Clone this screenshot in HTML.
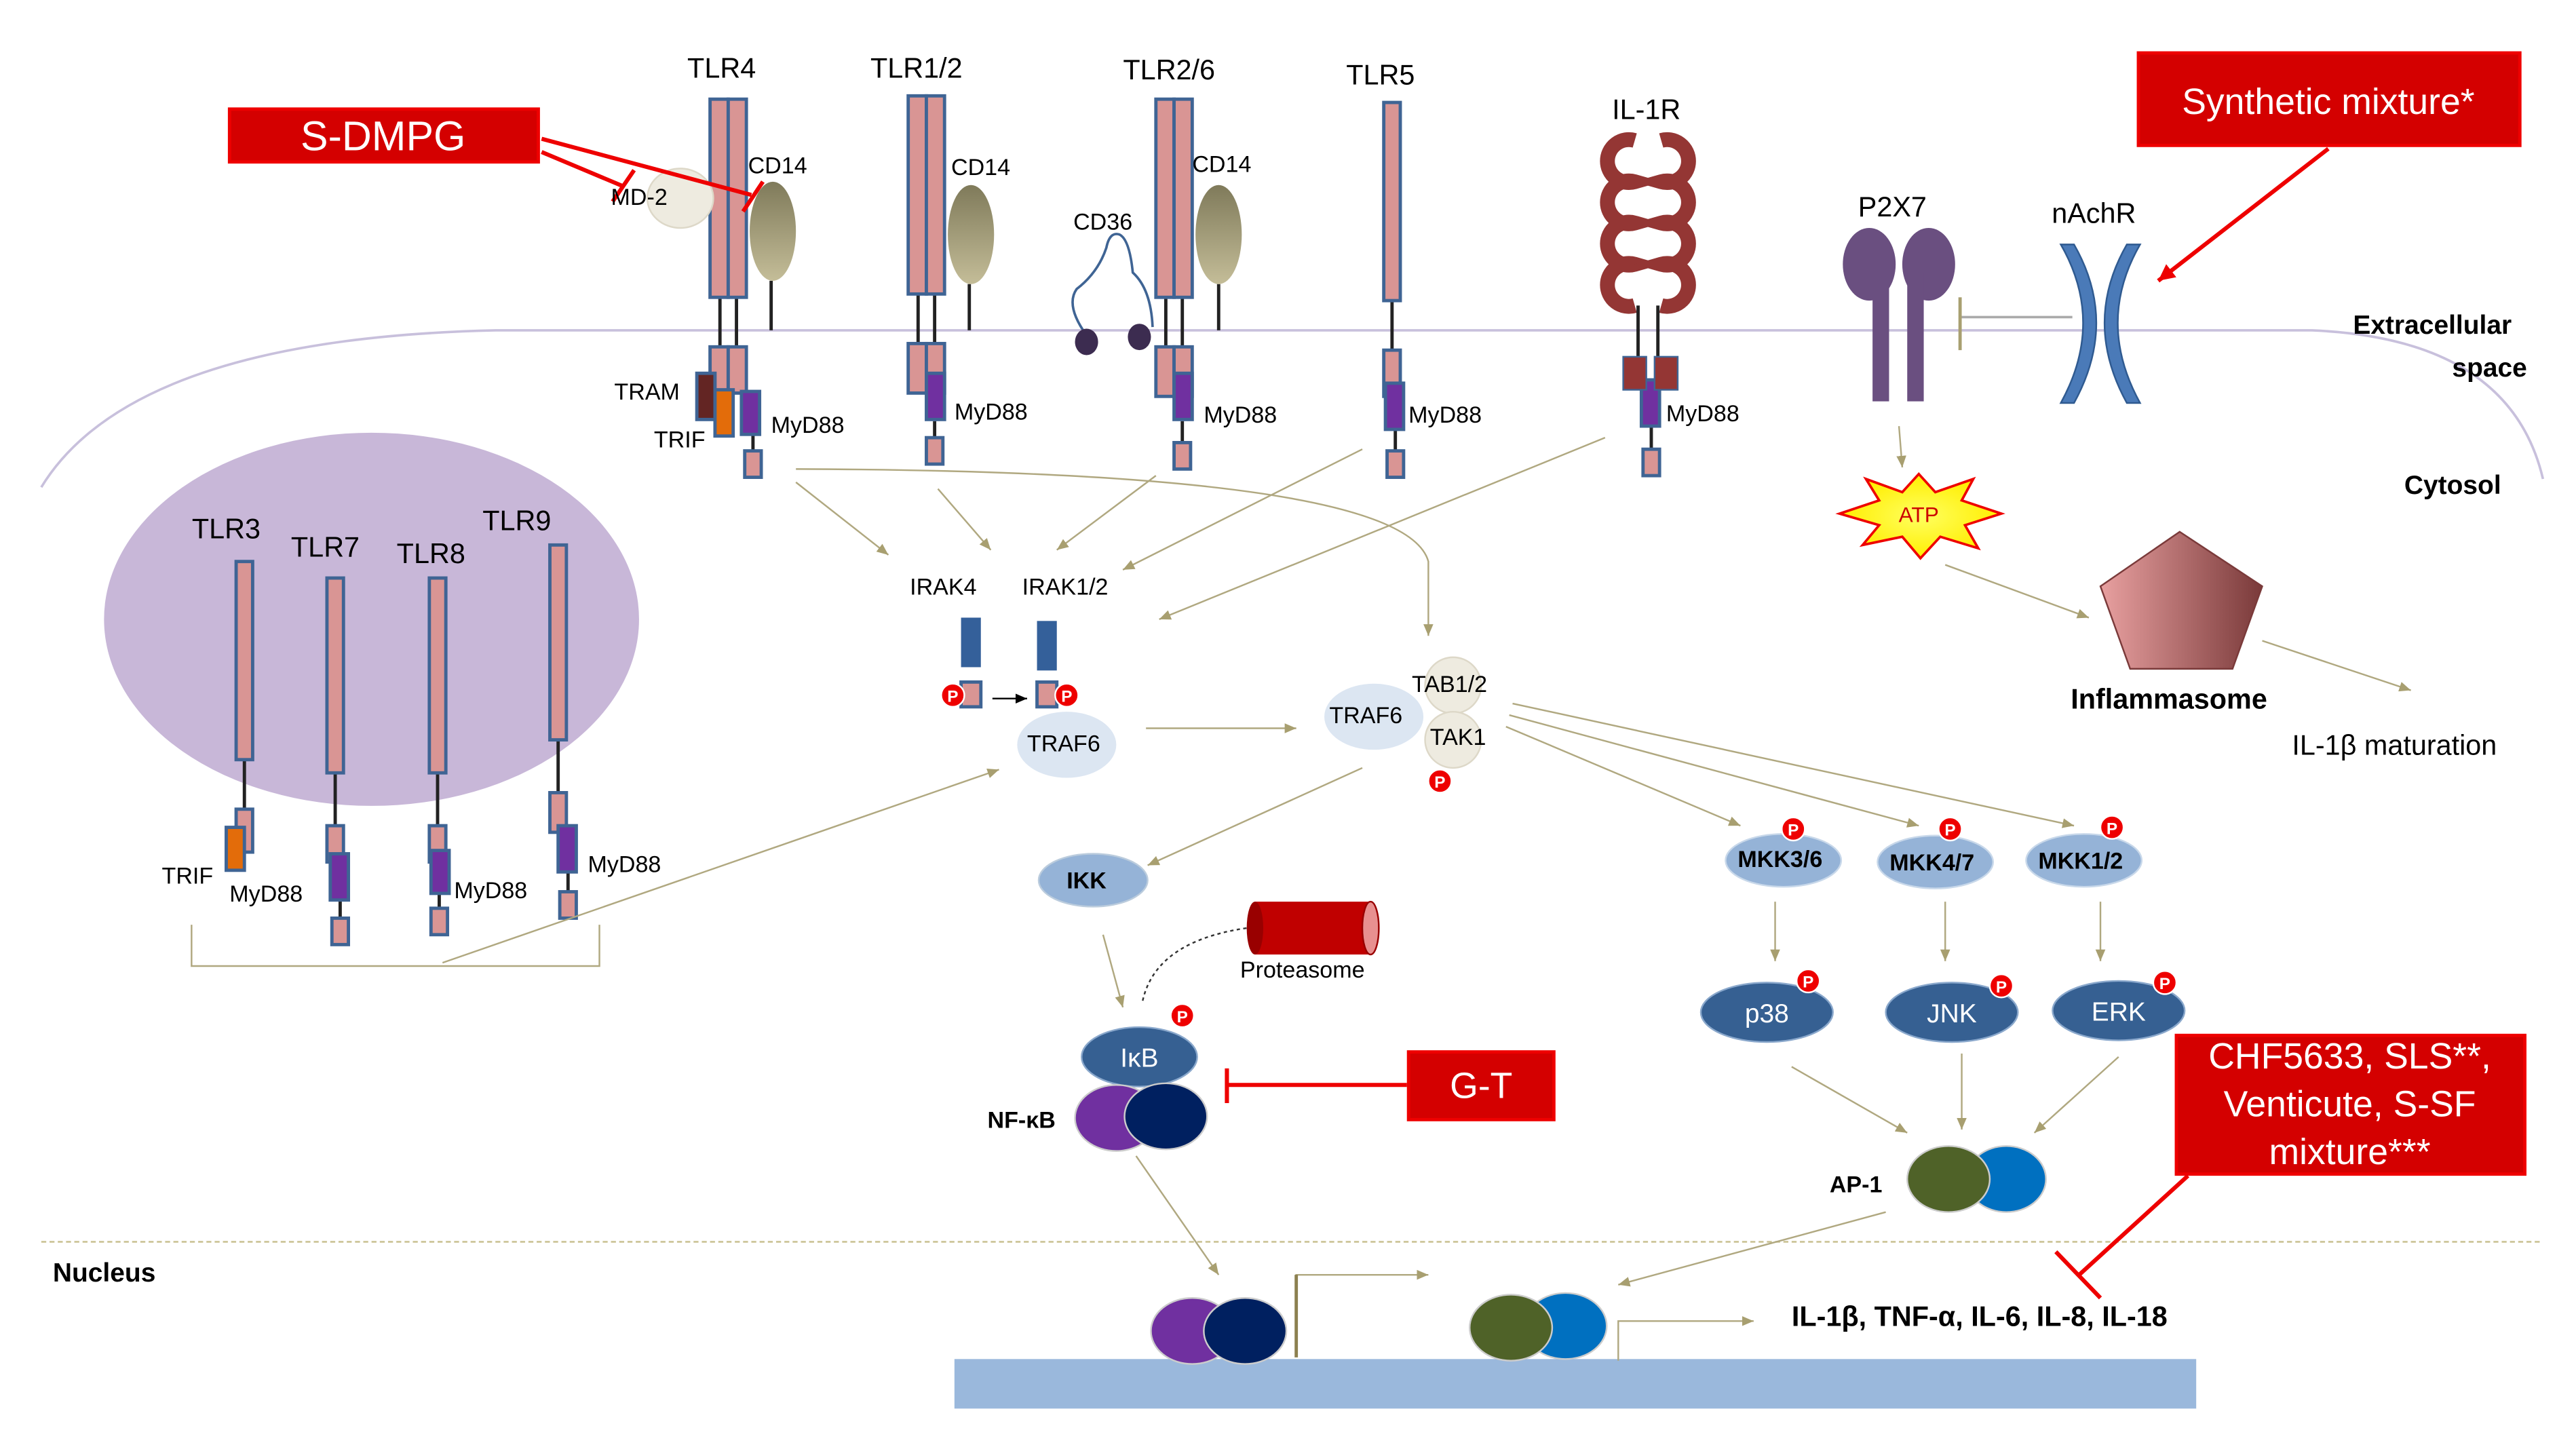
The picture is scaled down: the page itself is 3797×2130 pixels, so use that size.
<!DOCTYPE html>
<html><head><meta charset="utf-8"><style>
html,body{margin:0;padding:0;background:#fff}
svg{display:block}
text{font-family:"Liberation Sans",sans-serif}
</style></head><body>
<svg width="3797" height="2130" viewBox="0 0 1560 875" xmlns="http://www.w3.org/2000/svg">
<defs>
<marker id="ar" markerWidth="8" markerHeight="8" refX="7" refY="4" orient="auto" markerUnits="userSpaceOnUse"><path d="M0,1 L7,4 L0,7 z" fill="#a89f70"/></marker>
<marker id="ark" markerWidth="8" markerHeight="8" refX="7" refY="4" orient="auto" markerUnits="userSpaceOnUse"><path d="M0,1 L7,4 L0,7 z" fill="#000"/></marker>
<marker id="arr" markerWidth="12" markerHeight="12" refX="10" refY="6" orient="auto" markerUnits="userSpaceOnUse"><path d="M0,1 L10,6 L0,11 z" fill="#e00"/></marker>
<linearGradient id="cd" x1="0" y1="0" x2="0" y2="1"><stop offset="0" stop-color="#7f7a5a"/><stop offset="1" stop-color="#c4bd98"/></linearGradient>
<linearGradient id="inf" x1="0" y1="0" x2="1" y2="0"><stop offset="0" stop-color="#e8a0a0"/><stop offset="1" stop-color="#7a3a3a"/></linearGradient>
<radialGradient id="atp"><stop offset="0" stop-color="#ffff60"/><stop offset="1" stop-color="#ffee00"/></radialGradient>
</defs>
<path d="M25,295 Q80,205 300,200 L1400,200 Q1520,205 1540,290" fill="none" stroke="#c8c0dc" stroke-width="1.5"/>
<line x1="25" y1="752" x2="1540" y2="752" stroke="#c8c090" stroke-width="1" stroke-dasharray="3,2"/>
<rect x="578" y="823" width="752" height="30" fill="#9ab8dc"/>
<ellipse cx="225" cy="375" rx="162" ry="113" fill="#c8b7d8"/>
<g stroke="#222" stroke-width="2">
<line x1="436" y1="180" x2="436" y2="210"/><line x1="446" y1="180" x2="446" y2="210"/><line x1="467" y1="170" x2="467" y2="200"/>
<line x1="556" y1="178" x2="556" y2="208"/><line x1="566" y1="178" x2="566" y2="208"/><line x1="587" y1="172" x2="587" y2="200"/>
<line x1="706" y1="180" x2="706" y2="210"/><line x1="716" y1="180" x2="716" y2="210"/><line x1="738" y1="172" x2="738" y2="200"/>
<line x1="843" y1="182" x2="843" y2="212"/>
<line x1="456" y1="262" x2="456" y2="273"/><line x1="566" y1="255" x2="566" y2="265"/><line x1="716" y1="255" x2="716" y2="268"/><line x1="845" y1="260" x2="845" y2="273"/><line x1="1000" y1="258" x2="1000" y2="272"/>
<line x1="148" y1="460" x2="148" y2="490"/><line x1="203" y1="468" x2="203" y2="500"/><line x1="265" y1="468" x2="265" y2="500"/><line x1="338" y1="448" x2="338" y2="480"/>
<line x1="206" y1="545" x2="206" y2="556"/><line x1="266" y1="541" x2="266" y2="550"/><line x1="344" y1="528" x2="344" y2="540"/>
</g>
<g fill="#d99594" stroke="#3f6494" stroke-width="2">
<rect x="430" y="60" width="11" height="120"/><rect x="441" y="60" width="11" height="120"/>
<rect x="430" y="210" width="11" height="28"/><rect x="441" y="210" width="11" height="28"/>
<rect x="451" y="273" width="10" height="16"/>
<rect x="550" y="58" width="11" height="120"/><rect x="561" y="58" width="11" height="120"/>
<rect x="550" y="208" width="11" height="30"/><rect x="561" y="208" width="11" height="30"/>
<rect x="561" y="265" width="10" height="16"/>
<rect x="700" y="60" width="11" height="120"/><rect x="711" y="60" width="11" height="120"/>
<rect x="700" y="210" width="11" height="30"/><rect x="711" y="210" width="11" height="30"/>
<rect x="711" y="268" width="10" height="16"/>
<rect x="838" y="62" width="10" height="120"/><rect x="838" y="212" width="10" height="28"/>
<rect x="840" y="273" width="10" height="16"/>
<rect x="995" y="272" width="10" height="16"/>
<rect x="143" y="340" width="10" height="120"/><rect x="143" y="490" width="10" height="26"/>
<rect x="198" y="350" width="10" height="118"/><rect x="198" y="500" width="10" height="22"/><rect x="201" y="556" width="10" height="16"/>
<rect x="260" y="350" width="10" height="118"/><rect x="260" y="500" width="10" height="22"/><rect x="261" y="550" width="10" height="16"/>
<rect x="333" y="330" width="10" height="118"/><rect x="333" y="480" width="10" height="24"/><rect x="339" y="540" width="10" height="16"/>
<rect x="582" y="413" width="12" height="15"/><rect x="628" y="413" width="12" height="15"/>
</g>
<g stroke="#3f6494" stroke-width="2">
<rect x="422" y="226" width="11" height="28" fill="#632523"/>
<rect x="433" y="236" width="11" height="28" fill="#e36c0a"/>
<rect x="449" y="237" width="11" height="26" fill="#7030a0"/>
<rect x="561" y="226" width="11" height="28" fill="#7030a0"/>
<rect x="711" y="226" width="11" height="28" fill="#7030a0"/>
<rect x="839" y="232" width="11" height="28" fill="#7030a0"/>
<rect x="994" y="230" width="11" height="28" fill="#7030a0"/>
<rect x="137" y="501" width="11" height="26" fill="#e36c0a"/>
<rect x="200" y="517" width="11" height="28" fill="#7030a0"/>
<rect x="261" y="515" width="11" height="26" fill="#7030a0"/>
<rect x="338" y="500" width="11" height="28" fill="#7030a0"/>
<rect x="582" y="374" width="12" height="30" fill="#34609a" stroke="none"/>
<rect x="628" y="376" width="12" height="30" fill="#34609a" stroke="none"/>
</g>
<ellipse cx="412" cy="120" rx="20" ry="18" fill="#eeebe0" stroke="#ddd8c8"/>
<ellipse cx="468" cy="140" rx="14" ry="30" fill="url(#cd)"/>
<ellipse cx="588" cy="142" rx="14" ry="30" fill="url(#cd)"/>
<ellipse cx="738" cy="142" rx="14" ry="30" fill="url(#cd)"/>
<path d="M658,203 Q645,185 652,175 Q665,165 670,150 Q672,140 678,142 Q684,145 686,165 Q697,175 698,198" fill="none" stroke="#3f6494" stroke-width="1.5"/>
<ellipse cx="658" cy="207" rx="7" ry="8" fill="#3c2c50"/><ellipse cx="690" cy="204" rx="7" ry="8" fill="#3c2c50"/>
<g fill="none" stroke="#943634" stroke-width="9">
<path d="M990,85 A13,13 0 1 0 990,110 A13,13 0 1 0 990,135 A13,13 0 1 0 990,160 A13,13 0 1 0 990,185"/>
<path d="M1006,85 A13,13 0 1 1 1006,110 A13,13 0 1 1 1006,135 A13,13 0 1 1 1006,160 A13,13 0 1 1 1006,185"/>
</g>
<line x1="992" y1="185" x2="992" y2="216" stroke="#222" stroke-width="2"/><line x1="1004" y1="185" x2="1004" y2="216" stroke="#222" stroke-width="2"/>
<rect x="983" y="216" width="14" height="20" fill="#943634" stroke="#3f6494"/><rect x="1002" y="216" width="14" height="20" fill="#943634" stroke="#3f6494"/>
<g fill="#6a4f80">
<ellipse cx="1132" cy="160" rx="16" ry="22"/><rect x="1134" y="165" width="10" height="78"/>
<ellipse cx="1168" cy="160" rx="16" ry="22"/><rect x="1155" y="165" width="10" height="78"/>
</g>
<line x1="1187" y1="192" x2="1255" y2="192" stroke="#aaa" stroke-width="1.5"/><line x1="1187" y1="180" x2="1187" y2="212" stroke="#a89f70" stroke-width="2"/>
<path d="M1248,148 Q1275,195 1248,244 L1256,244 Q1283,195 1256,148 z" fill="#4a7ab8" stroke="#2f5a90"/>
<path d="M1296,148 Q1269,195 1296,244 L1288,244 Q1261,195 1288,148 z" fill="#4a7ab8" stroke="#2f5a90"/>
<polygon points="1162,287 1172,298 1195,290 1188,303 1212,311 1190,318 1198,332 1175,325 1163,338 1152,325 1128,330 1138,318 1114,311 1138,303 1130,290 1152,298" fill="url(#atp)" stroke="#e00" stroke-width="1.5"/>
<text x="1162" y="316" font-size="13" text-anchor="middle" fill="#c00">ATP</text>
<polygon points="1320,322 1370,355 1352,405 1290,405 1272,355" fill="url(#inf)" stroke="#7a3a3a"/>
<ellipse cx="646" cy="451" rx="30" ry="20" fill="#dce6f2"/>
<ellipse cx="832" cy="434" rx="30" ry="20" fill="#dce6f2"/>
<circle cx="880" cy="415" r="17" fill="#eeebe0" stroke="#ddd8c8"/><circle cx="880" cy="448" r="17" fill="#eeebe0" stroke="#ddd8c8"/>
<ellipse cx="662" cy="533" rx="33" ry="16" fill="#95b3d7" stroke="#bcd"/>
<g fill="#95b3d7" stroke="#c8d8ea"><ellipse cx="1080" cy="521" rx="35" ry="16"/><ellipse cx="1172" cy="522" rx="35" ry="16"/><ellipse cx="1262" cy="521" rx="35" ry="16"/></g>
<g fill="#366092" stroke="#8aa8cc"><ellipse cx="1070" cy="613" rx="40" ry="18"/><ellipse cx="1182" cy="613" rx="40" ry="18"/><ellipse cx="1283" cy="612" rx="40" ry="18"/><ellipse cx="690" cy="640" rx="35" ry="18"/></g>
<ellipse cx="676" cy="677" rx="25" ry="20" fill="#7030a0" stroke="#ccc"/><ellipse cx="706" cy="676" rx="25" ry="20" fill="#002060" stroke="#ccc"/>
<ellipse cx="1215" cy="714" rx="24" ry="20" fill="#0070c0" stroke="#ccc"/><ellipse cx="1180" cy="714" rx="25" ry="20" fill="#4f6228" stroke="#ccc"/>
<ellipse cx="722" cy="806" rx="25" ry="20" fill="#7030a0" stroke="#ccc"/><ellipse cx="754" cy="806" rx="25" ry="20" fill="#002060" stroke="#ccc"/>
<ellipse cx="948" cy="803" rx="25" ry="20" fill="#0070c0" stroke="#ccc"/><ellipse cx="915" cy="804" rx="25" ry="20" fill="#4f6228" stroke="#ccc"/>
<rect x="760" y="546" width="70" height="32" fill="#c00000"/><ellipse cx="760" cy="562" rx="5" ry="16" fill="#900"/><ellipse cx="830" cy="562" rx="5" ry="16" fill="#e89090" stroke="#900"/>
<path d="M692,606 Q700,570 755,562" fill="none" stroke="#333" stroke-dasharray="2,2"/>
<g fill="#e00" stroke="#fff"><circle cx="577" cy="421" r="7"/><circle cx="646" cy="421" r="7"/><circle cx="872" cy="473" r="7"/><circle cx="1086" cy="502" r="7"/><circle cx="1181" cy="502" r="7"/><circle cx="1279" cy="501" r="7"/><circle cx="1095" cy="594" r="7"/><circle cx="1212" cy="597" r="7"/><circle cx="1311" cy="595" r="7"/><circle cx="716" cy="615" r="7"/></g>
<g fill="#fff" font-size="10" font-weight="bold" text-anchor="middle"><text x="577" y="425">P</text><text x="646" y="425">P</text><text x="872" y="477">P</text><text x="1086" y="506">P</text><text x="1181" y="506">P</text><text x="1279" y="505">P</text><text x="1095" y="598">P</text><text x="1212" y="601">P</text><text x="1311" y="599">P</text><text x="716" y="619">P</text></g>
<g stroke="#b0a880" stroke-width="1" fill="none" marker-end="url(#ar)">
<line x1="482" y1="292" x2="538" y2="336"/><line x1="568" y1="296" x2="600" y2="333"/><line x1="700" y1="288" x2="640" y2="333"/><line x1="825" y1="272" x2="680" y2="345"/><line x1="972" y1="265" x2="702" y2="375"/>
<path d="M482,284 Q850,285 865,340 L865,385"/>
<line x1="694" y1="441" x2="785" y2="441"/>
<line x1="825" y1="465" x2="695" y2="524"/>
<line x1="912" y1="440" x2="1054" y2="500"/><line x1="914" y1="433" x2="1162" y2="500"/><line x1="916" y1="426" x2="1256" y2="500"/>
<line x1="1075" y1="546" x2="1075" y2="582"/><line x1="1178" y1="546" x2="1178" y2="582"/><line x1="1272" y1="546" x2="1272" y2="582"/>
<line x1="1085" y1="646" x2="1155" y2="686"/><line x1="1188" y1="638" x2="1188" y2="684"/><line x1="1283" y1="640" x2="1232" y2="686"/>
<line x1="1142" y1="734" x2="980" y2="778"/>
<line x1="268" y1="583" x2="605" y2="466"/>
<line x1="668" y1="566" x2="680" y2="610"/>
<line x1="688" y1="700" x2="738" y2="772"/>
<line x1="1150" y1="258" x2="1152" y2="283"/>
<line x1="1178" y1="342" x2="1265" y2="374"/><line x1="1370" y1="388" x2="1460" y2="418"/>
<path d="M785,820 L785,772 L865,772"/><path d="M980,824 L980,800 L1062,800"/>
</g>
<line x1="601" y1="423" x2="622" y2="423" stroke="#000" marker-end="url(#ark)"/>
<path d="M116,560 L116,585 L363,585 L363,560" fill="none" stroke="#b0a880"/>
<line x1="785" y1="772" x2="785" y2="822" stroke="#8c8050" stroke-width="2"/>
<g stroke="#e00" stroke-width="2.5" fill="none">
<line x1="328" y1="84" x2="455" y2="118"/><line x1="328" y1="92" x2="378" y2="113"/>
<line x1="371" y1="122" x2="384" y2="103"/><line x1="450" y1="128" x2="462" y2="110"/>
<line x1="852" y1="657" x2="743" y2="657"/><line x1="743" y1="647" x2="743" y2="668"/>
<line x1="1325" y1="712" x2="1258" y2="773"/><line x1="1245" y1="758" x2="1272" y2="786"/>
<line x1="1410" y1="90" x2="1307" y2="170" marker-end="url(#arr)"/>
</g>
<g fill="#d40000" stroke="#e00" stroke-width="2">
<rect x="139" y="66" width="187" height="32"/><rect x="1295" y="32" width="231" height="56"/><rect x="853" y="637" width="88" height="41"/><rect x="1318" y="627" width="211" height="84"/>
</g>
<g fill="#fff" font-size="22" text-anchor="middle">
<text x="232" y="91" font-size="25">S-DMPG</text>
<text x="1410" y="69">Synthetic mixture*</text>
<text x="897" y="665">G-T</text>
<text x="1423" y="647">CHF5633, SLS**,</text><text x="1423" y="676">Venticute, S-SF</text><text x="1423" y="705">mixture***</text>
</g>
<g font-size="17" fill="#000" text-anchor="middle">
<text x="437" y="47">TLR4</text><text x="555" y="47">TLR1/2</text><text x="708" y="48">TLR2/6</text><text x="836" y="51">TLR5</text><text x="997" y="72">IL-1R</text>
<text x="1146" y="131">P2X7</text><text x="1268" y="135">nAchR</text>
<text x="137" y="326">TLR3</text><text x="197" y="337">TLR7</text><text x="261" y="341">TLR8</text><text x="313" y="321">TLR9</text>
</g>
<g font-size="14" fill="#000">
<text x="453" y="105">CD14</text><text x="576" y="106">CD14</text><text x="722" y="104">CD14</text><text x="650" y="139">CD36</text><text x="370" y="124">MD-2</text>
<text x="372" y="242">TRAM</text><text x="396" y="271">TRIF</text>
<text x="467" y="262">MyD88</text><text x="578" y="254">MyD88</text><text x="729" y="256">MyD88</text><text x="853" y="256">MyD88</text><text x="1009" y="255">MyD88</text>
<text x="98" y="535">TRIF</text><text x="139" y="546">MyD88</text><text x="275" y="544">MyD88</text><text x="356" y="528">MyD88</text>
<text x="551" y="360">IRAK4</text><text x="619" y="360">IRAK1/2</text>
<text x="622" y="455">TRAF6</text><text x="805" y="438">TRAF6</text><text x="855" y="419">TAB1/2</text><text x="866" y="451">TAK1</text>
<text x="751" y="592">Proteasome</text>
<text x="1388" y="457" font-size="17">IL-1β maturation</text>
</g>
<g font-size="16" fill="#fff" text-anchor="middle"><text x="1070" y="619">p38</text><text x="1182" y="619">JNK</text><text x="1283" y="618">ERK</text><text x="690" y="646">IκB</text></g>
<g font-size="14" font-weight="bold" fill="#000" text-anchor="middle"><text x="658" y="538">IKK</text><text x="1078" y="525">MKK3/6</text><text x="1170" y="527">MKK4/7</text><text x="1260" y="526">MKK1/2</text></g>
<g font-size="16" font-weight="bold" fill="#000">
<text x="1425" y="202">Extracellular</text><text x="1485" y="228">space</text><text x="1456" y="299">Cytosol</text>
<text x="1254" y="429" font-size="17">Inflammasome</text>
<text x="598" y="683" font-size="14">NF-κB</text><text x="1108" y="722" font-size="14">AP-1</text>
<text x="32" y="776">Nucleus</text>
<text x="1085" y="803" font-size="17">IL-1β, TNF-α, IL-6, IL-8, IL-18</text>
</g>
</svg>
</body></html>
